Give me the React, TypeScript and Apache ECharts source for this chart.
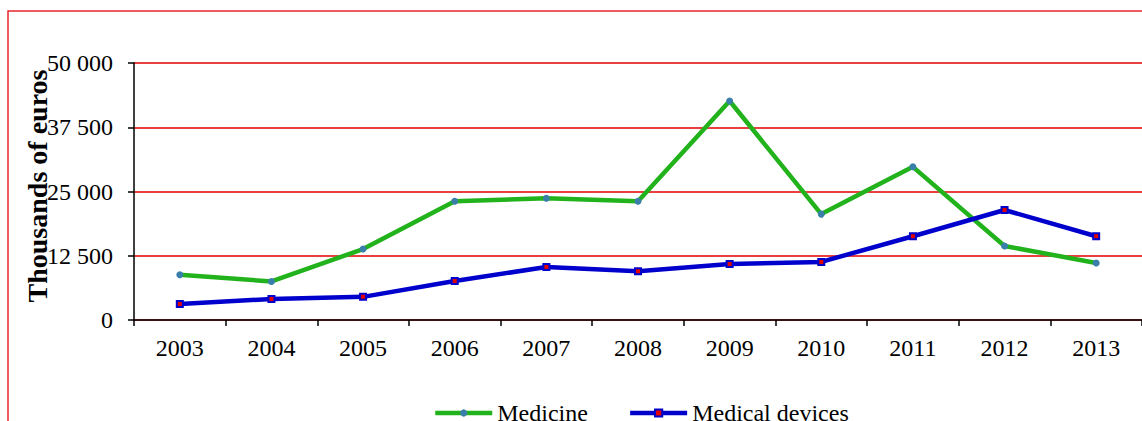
import React, { useEffect, useRef } from "react";
import * as echarts from "echarts";

const years = ["2003", "2004", "2005", "2006", "2007", "2008", "2009", "2010", "2011", "2012", "2013"];
const medicine = [8800, 7500, 13800, 23100, 23700, 23100, 42600, 20600, 29800, 14400, 11100];
const medicalDevices = [3100, 4100, 4500, 7600, 10300, 9500, 10900, 11300, 16300, 21400, 16300];
const yTicks = { min: 0, max: 50000, interval: 12500 };

const FONT = "Liberation Serif";

export default function App() {
  const ref = useRef<HTMLDivElement>(null);
  useEffect(() => {
    const chart = echarts.init(ref.current!, null, { renderer: "svg" });
    chart.setOption({
      animation: false,
      backgroundColor: "#fff",
      textStyle: { fontFamily: FONT, color: "#000" },
      grid: { left: 134, top: 63, bottom: 101, right: -9.5, containLabel: false },
      graphic: [
        {
          type: "rect",
          shape: { x: 8, y: 11, width: 1300, height: 600 },
          style: { fill: "none", stroke: "#e8262a", lineWidth: 1.5 },
          silent: true,
        },
        {
          type: "text",
          x: 37,
          y: 186,
          rotation: Math.PI / 2,
          style: {
            text: "Thousands of euros",
            fontFamily: FONT,
            fontWeight: "bold",
            fontSize: 28,
            fill: "#000",
            align: "center",
            verticalAlign: "middle",
          },
        },
      ],
      legend: {
        bottom: -9,
        left: 428,
        itemWidth: 57,
        itemHeight: 9,
        itemGap: 40,
        lineStyle: { width: 4.5 },
        textStyle: { fontFamily: FONT, fontSize: 24, color: "#000" },
        data: ["Medicine", "Medical devices"],
      },
      xAxis: {
        type: "category",
        data: years,
        boundaryGap: true,
        axisLine: { lineStyle: { color: "#000", width: 1.5 } },
        axisTick: { show: true, length: 6, lineStyle: { color: "#000", width: 1.5 } },
        axisLabel: { fontFamily: FONT, fontSize: 24, color: "#000", margin: 16 },
      },
      yAxis: {
        type: "value",
        min: yTicks.min,
        max: yTicks.max,
        interval: yTicks.interval,
        axisLine: { show: true, lineStyle: { color: "#000", width: 1.5 } },
        axisTick: { show: true, length: 6, lineStyle: { color: "#000", width: 1.5 } },
        axisLabel: {
          fontFamily: FONT,
          fontSize: 24,
          color: "#000",
          margin: 21,
          formatter: (v: number) => String(v).replace(/\B(?=(\d{3})+(?!\d))/g, " "),
        },
        splitLine: { lineStyle: { color: "#e00000", width: 1.5 } },
      },
      series: [
        {
          name: "Medicine",
          type: "line",
          data: medicine,
          symbol: "circle",
          symbolSize: 7,
          showAllSymbol: true,
          lineStyle: { color: "#22b21c", width: 4.5 },
          itemStyle: { color: "#3a7eaa", borderWidth: 0 },
          z: 3,
        },
        {
          name: "Medical devices",
          type: "line",
          data: medicalDevices,
          symbol: "rect",
          symbolSize: 6,
          showAllSymbol: true,
          lineStyle: { color: "#0000cc", width: 4.5 },
          itemStyle: { color: "#e00000", borderColor: "#0000cc", borderWidth: 2 },
          z: 4,
        },
      ],
    });
    return () => chart.dispose();
  }, []);
  return (
    <div style={{ position: "fixed", left: 0, top: 0, width: 1142, height: 421, background: "#fff" }}>
      <div ref={ref} style={{ width: 1142, height: 421 }} />
    </div>
  );
}
